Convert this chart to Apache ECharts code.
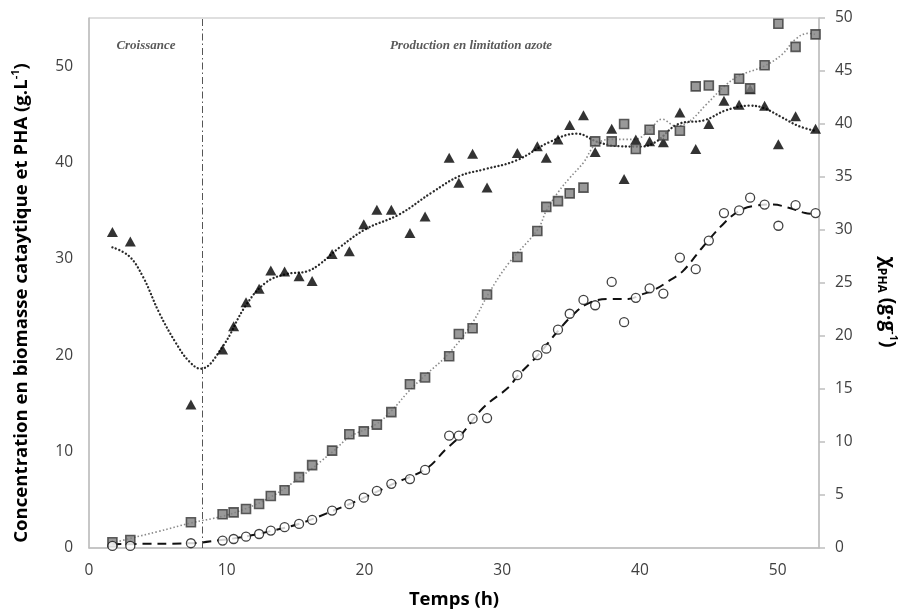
<!DOCTYPE html>
<html><head><meta charset="utf-8">
<script src="https://cdn.jsdelivr.net/npm/echarts@6/dist/echarts.min.js"></script>
<style>html,body{margin:0;padding:0;background:#fff}#c{width:906px;height:612px}</style>
</head><body><div id="c"></div>
<script>
// ---- data ----
const times = [1.7, 3.0, 7.4, 9.7, 10.5, 11.4, 12.35, 13.2, 14.2, 15.25, 16.2, 17.65, 18.9, 19.95, 20.9, 21.95, 23.3, 24.4, 26.15, 26.85, 27.85, 28.9, 31.1, 32.55, 33.2, 34.05, 34.9, 35.9, 36.75, 37.95, 38.85, 39.7, 40.7, 41.7, 42.9, 44.05, 45.0, 46.1, 47.2, 48.0, 49.05, 50.05, 51.3, 52.75];
// triangles: biomasse catalytique (left axis, g/L)
const biomass = [32.8, 31.8, 14.9, 20.6, 23.0, 25.5, 26.9, 28.8, 28.7, 28.2, 27.7, 30.5, 30.8, 33.6, 35.1, 35.1, 32.7, 34.4, 40.5, 37.9, 40.9, 37.4, 41.0, 41.7, 40.5, 42.4, 43.9, 44.9, 41.1, 43.5, 38.3, 42.4, 42.2, 42.1, 45.2, 41.4, 44.0, 46.4, 46.0, 47.6, 45.9, 41.9, 44.8, 43.5];
// squares: PHA (left axis, g/L)
const pha = [0.6, 0.83, 2.67, 3.5, 3.7, 4.05, 4.57, 5.4, 6.0, 7.35, 8.6, 10.1, 11.8, 12.1, 12.8, 14.1, 17.0, 17.7, 19.9, 22.2, 22.8, 26.3, 30.2, 32.9, 35.4, 36.0, 36.8, 37.4, 42.2, 42.2, 44.0, 41.4, 43.4, 42.8, 43.3, 47.9, 48.0, 47.5, 48.7, 47.7, 50.1, 54.4, 52.0, 53.3];
// circles: chi PHA (right axis)
const chiPha = [0.2, 0.2, 0.45, 0.7, 0.85, 1.07, 1.32, 1.64, 1.96, 2.27, 2.65, 3.53, 4.13, 4.75, 5.39, 6.05, 6.5, 7.37, 10.6, 10.6, 12.2, 12.26, 16.3, 18.2, 18.8, 20.6, 22.1, 23.4, 22.9, 25.1, 21.3, 23.6, 24.5, 24.0, 27.4, 26.3, 29.0, 31.6, 31.85, 33.05, 32.4, 30.4, 32.35, 31.6];

// trend curves
const trendBiomassT = [1.7, 2.9, 3.9, 5.1, 6.3, 7.25, 8.1, 9.7, 11.35, 12.8, 14.25, 15.8, 16.7, 18.2, 20.1, 22.5, 24.9, 26.9, 28.7, 31.0, 33.4, 35.4, 37.0, 38.5, 40.0, 41.1, 42.8, 44.7, 46.2, 47.9, 48.9, 50.3, 51.5, 52.7];
const trendBiomassV = [31.2, 30.3, 28.2, 24.4, 21.3, 19.4, 18.6, 20.9, 25.1, 27.5, 28.4, 28.7, 29.4, 31.2, 33.1, 34.6, 36.9, 38.6, 39.3, 40.2, 42.1, 43.0, 42.1, 41.7, 41.65, 42.1, 44.0, 44.4, 45.4, 45.9, 45.7, 44.7, 43.8, 43.3];
const trendPhaT = [1.7, 3.0, 5.0, 7.4, 9.7, 11.4, 13.2, 15.3, 17.7, 18.9, 20.9, 22.0, 23.3, 24.4, 26.2, 27.85, 29.05, 30.5, 32.6, 33.2, 34.1, 34.9, 35.9, 36.8, 37.95, 39.6, 40.65, 41.6, 42.6, 43.6, 44.8, 46.2, 47.2, 49.0, 50.3, 51.3, 52.2, 52.7];
const trendPhaV = [0.5, 1.0, 1.7, 2.6, 3.3, 4.1, 5.3, 7.3, 10.0, 11.5, 12.9, 14.3, 16.4, 17.9, 20.3, 23.4, 26.5, 29.6, 33.1, 35.0, 37.0, 38.4, 40.0, 41.9, 42.4, 42.4, 43.3, 44.5, 43.8, 44.3, 46.0, 48.0, 49.0, 50.0, 51.2, 52.8, 53.4, 53.3];
const trendChiT = [1.7, 3.0, 7.3, 9.6, 11.4, 13.2, 15.3, 17.7, 19.9, 22.0, 24.5, 25.9, 26.9, 28.6, 30.5, 31.1, 32.6, 34.0, 35.3, 36.3, 37.7, 39.15, 40.1, 41.1, 42.1, 43.1, 44.5, 46.0, 47.2, 48.4, 49.6, 50.8, 52.0, 52.7];
const trendChiV = [0.35, 0.38, 0.45, 0.75, 1.1, 1.6, 2.3, 3.5, 4.7, 6.0, 7.5, 9.3, 10.5, 13.2, 15.2, 16.2, 18.2, 20.4, 22.2, 23.1, 23.5, 23.5, 23.9, 24.4, 25.2, 26.1, 28.3, 30.5, 31.8, 32.3, 32.4, 32.1, 31.6, 31.5];

const xTicks = [0, 10, 20, 30, 40, 50];
const leftTicks = [0, 10, 20, 30, 40, 50];
const rightTicks = [0, 5, 10, 15, 20, 25, 30, 35, 40, 45, 50];
const phaseBoundary = 8.2;
const phaseLabels = ['Croissance', 'Production en limitation azote'];

// ---- chart ----
const zip = (a, b) => a.map((v, i) => [v, b[i]]);
const chart = echarts.init(document.getElementById('c'), null, {renderer: 'canvas'});
const axisColor = '#bfbfbf';
const labelStyle = {color: '#404040', fontFamily: 'Open Sans', fontSize: 15.5};

chart.setOption({
  animation: false,
  backgroundColor: '#fff',
  grid: {left: 89, right: 87, top: 18, bottom: 64, show: true, borderColor: axisColor, borderWidth: 1},
  xAxis: {
    type: 'value', min: 0, max: 53, interval: 10,
    axisLine: {lineStyle: {color: axisColor, width: 1.5}},
    axisTick: {show: false}, splitLine: {show: false},
    axisLabel: Object.assign({margin: 15, formatter: v => xTicks.includes(v) ? String(v) : ''}, labelStyle)
  },
  yAxis: [{
    type: 'value', min: 0, max: 55, interval: 10, position: 'left',
    axisLine: {show: true, lineStyle: {color: axisColor, width: 1.5}},
    axisTick: {show: false}, splitLine: {show: false},
    axisLabel: Object.assign({margin: 16, formatter: v => leftTicks.includes(v) ? String(v) : ''}, labelStyle)
  }, {
    type: 'value', min: 0, max: 50, interval: 5, position: 'right',
    axisLine: {show: true, lineStyle: {color: axisColor, width: 1.5}},
    axisTick: {show: true, length: 6, lineStyle: {color: axisColor, width: 1.5}},
    splitLine: {show: false},
    axisLabel: Object.assign({margin: 16, formatter: v => rightTicks.includes(v) ? String(v) : ''}, labelStyle)
  }],
  series: [
    {
      type: 'line', data: zip(trendPhaT, trendPhaV), smooth: 0.4, showSymbol: false, silent: true, z: 2,
      lineStyle: {color: '#8a8a8a', width: 1.6, type: [1.5, 2.2]}
    },
    {
      type: 'line', data: zip(trendBiomassT, trendBiomassV), smooth: 0.4, showSymbol: false, silent: true, z: 2,
      lineStyle: {color: '#2a2a2a', width: 2.3, type: [0.1, 3.6], cap: 'round'},
      markLine: {
        silent: true, symbol: 'none', label: {show: false},
        lineStyle: {color: '#555', width: 1, type: [7, 3, 1.5, 3]},
        data: [{xAxis: phaseBoundary}]
      }
    },
    {
      type: 'line', yAxisIndex: 1, data: zip(trendChiT, trendChiV), smooth: 0.4, showSymbol: false, silent: true, z: 2,
      lineStyle: {color: '#111', width: 2, type: [9, 6]}
    },
    {
      type: 'scatter', data: zip(times, biomass), symbol: 'triangle', symbolSize: [11, 10], z: 5,
      itemStyle: {color: '#000'}
    },
    {
      type: 'scatter', data: zip(times, pha), symbol: 'rect', symbolSize: 9, z: 5,
      itemStyle: {color: '#808080', borderColor: '#383838', borderWidth: 1.6}
    },
    {
      type: 'scatter', yAxisIndex: 1, data: zip(times, chiPha), symbol: 'circle', symbolSize: 9, z: 5,
      itemStyle: {color: '#fff', borderColor: '#111', borderWidth: 1.3}
    }
  ],
  graphic: [
    {type: 'text', x: 146, y: 46, style: {text: phaseLabels[0], fill: '#5a5a5a', font: 'italic bold 13px "Liberation Serif"', textAlign: 'center', textVerticalAlign: 'middle'}},
    {type: 'text', x: 471, y: 46, style: {text: phaseLabels[1], fill: '#5a5a5a', font: 'italic bold 13px "Liberation Serif"', textAlign: 'center', textVerticalAlign: 'middle'}},
    {type: 'text', x: 454, y: 600, style: {text: 'Temps (h)', fill: '#000', font: 'bold 18.5px "Open Sans"', textAlign: 'center', textVerticalAlign: 'middle'}},
    {type: 'text', x: 22, y: 303, rotation: Math.PI / 2,
      style: {
        text: '{a|Concentration en biomasse cataytique et PHA (g.L}{s|-1}{a|)}',
        textAlign: 'center', textVerticalAlign: 'middle',
        rich: {
          a: {fontFamily: 'Open Sans', fontWeight: 'bold', fontSize: 18.6, fill: '#000', lineHeight: 24},
          s: {fontFamily: 'Open Sans', fontWeight: 'bold', fontSize: 11, fill: '#000', verticalAlign: 'top', lineHeight: 24}
        }
      }},
    {type: 'text', x: 887, y: 302, rotation: -Math.PI / 2,
      style: {
        text: '{a|χ}{b|PHA}{a| (g·g}{s|-1}{a|)}',
        textAlign: 'center', textVerticalAlign: 'middle',
        rich: {
          a: {fontFamily: 'Open Sans', fontWeight: 'bold', fontSize: 19, fill: '#000', lineHeight: 24},
          b: {fontFamily: 'Open Sans', fontWeight: 'bold', fontSize: 12, fill: '#000', verticalAlign: 'bottom', lineHeight: 24},
          s: {fontFamily: 'Open Sans', fontWeight: 'bold', fontSize: 11, fill: '#000', verticalAlign: 'top', lineHeight: 24}
        }
      }}
  ]
});
</script></body></html>
